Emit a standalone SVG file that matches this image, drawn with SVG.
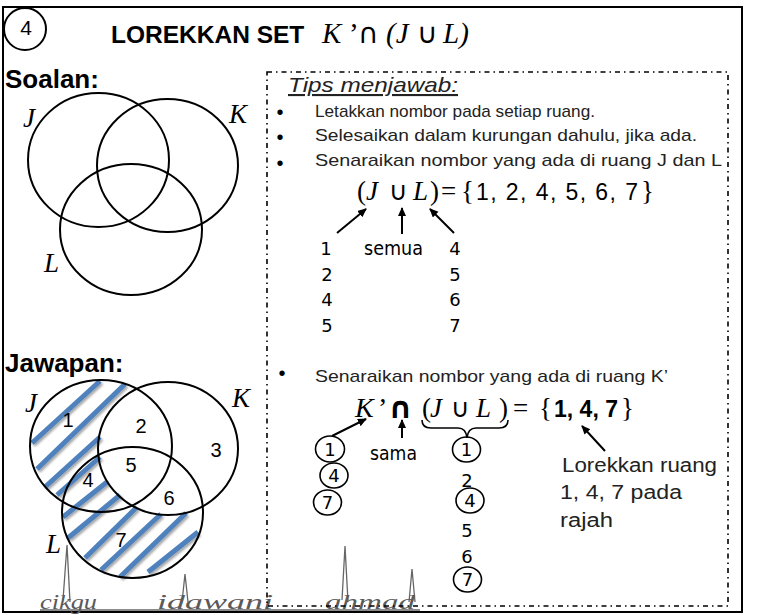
<svg xmlns="http://www.w3.org/2000/svg" width="764" height="615" viewBox="0 0 764 615">
<style>
.ring{fill:none;stroke:#000;stroke-width:2}
.it{font-family:"Liberation Serif",serif;font-style:italic;fill:#000}
.sf{font-family:"Liberation Serif",serif;fill:#000}
.sym{font-family:"DejaVu Sans",sans-serif;fill:#000}
.hw{font-family:"Liberation Sans",sans-serif;fill:#222}
.cs{font-family:"DejaVu Sans",sans-serif;fill:#000}
.bd{font-family:"Liberation Sans",sans-serif;font-weight:bold;fill:#000}
.num{font-family:"Liberation Sans",sans-serif;fill:#000}
.hatch{stroke:#4F81BD;stroke-width:5;fill:none}
.arr{stroke:#000;stroke-width:2;fill:none;marker-end:url(#ah)}
.sm{fill:none;stroke:#000;stroke-width:1.6}
.wm{font-family:"Liberation Serif",serif;font-style:italic;fill:#5a5a5a}
</style>
<defs>
<marker id="ah" markerWidth="10" markerHeight="10" refX="8" refY="4" orient="auto" markerUnits="userSpaceOnUse"><path d="M0,0 L9,4 L0,8 z" fill="#000"/></marker>
<filter id="sh" x="-20%" y="-20%" width="150%" height="150%"><feDropShadow dx="1.5" dy="2" stdDeviation="1.2" flood-color="#000" flood-opacity="0.35"/></filter>
</defs>
<rect x="3" y="7" width="739" height="605" fill="#fff" stroke="#000" stroke-width="2"/>
<g id="badge">
<ellipse cx="25" cy="29" rx="21" ry="21" class="ring" stroke-width="1.6"/>
<text x="26" y="35" class="num" font-size="21" text-anchor="middle">4</text>
</g>
<g id="title">
<text x="111" y="43" class="bd" font-size="24.5">LOREKKAN SET</text>
<text x="322" y="43" class="it" font-size="29">K</text>
<text x="349" y="43" class="sf" font-size="29">’</text>
<text x="358" y="43" class="sym" font-size="28">∩</text>
<text x="386" y="43" class="it" font-size="29">(J</text>
<text x="417" y="43" class="sym" font-size="28">∪</text>
<text x="443" y="43" class="it" font-size="29">L)</text>
</g>
<g id="soalan">
<text x="5" y="88" class="bd" font-size="26">Soalan:</text>
<ellipse cx="98.5" cy="160" rx="70.5" ry="67" class="ring"/>
<ellipse cx="167.5" cy="165.5" rx="70.5" ry="66.5" class="ring"/>
<ellipse cx="131" cy="229.5" rx="71" ry="65.5" class="ring"/>
<text x="23" y="127" class="it" font-size="27">J</text>
<text x="229" y="123" class="it" font-size="27">K</text>
<text x="44" y="272" class="it" font-size="27">L</text>
</g>
<g id="jawapan">
<text x="5" y="372" class="bd" font-size="26">Jawapan:</text>
<g filter="url(#sh)">
<line x1="32" y1="443" x2="100" y2="381" class="hatch"/>
<line x1="37" y1="469" x2="125" y2="384" class="hatch"/>
<line x1="45" y1="487" x2="100" y2="437" class="hatch"/>
<line x1="57" y1="495" x2="100" y2="457" class="hatch"/>
<line x1="63" y1="517" x2="107" y2="482" class="hatch"/>
<line x1="68" y1="538" x2="120" y2="495" class="hatch"/>
<line x1="85" y1="558" x2="137" y2="507" class="hatch"/>
<line x1="101" y1="570" x2="161" y2="514" class="hatch"/>
<line x1="120" y1="577" x2="186" y2="513" class="hatch"/>
<line x1="148" y1="572" x2="198" y2="532" class="hatch"/>
</g>
<ellipse cx="101" cy="446" rx="71" ry="66" class="ring"/>
<ellipse cx="168" cy="448.5" rx="70" ry="66.5" class="ring"/>
<ellipse cx="132.5" cy="512.5" rx="70.5" ry="65.5" class="ring"/>
<text x="25" y="412" class="it" font-size="27">J</text>
<text x="232" y="407" class="it" font-size="27">K</text>
<text x="46" y="553" class="it" font-size="27">L</text>
<g class="num" font-size="20" text-anchor="middle">
<text x="68" y="427">1</text>
<text x="141" y="433">2</text>
<text x="216" y="457">3</text>
<text x="131" y="472">5</text>
<text x="88" y="487">4</text>
<text x="169" y="505">6</text>
<text x="121" y="547">7</text>
</g>
</g>
<g id="watermark">
<path d="M40,610 H420 M63,600 L67,545 L70,602 M182,602 L185,574 L188,602 M342,600 L345,546 L348,602 M409,602 L412,569 L415,602" fill="none" stroke="#666" stroke-width="1.3"/>
<text x="40" y="609" class="wm" font-size="22" textLength="57" lengthAdjust="spacingAndGlyphs">cikgu</text>
<text x="157" y="609" class="wm" font-size="22" textLength="116" lengthAdjust="spacingAndGlyphs">idawani</text>
<text x="325" y="609" class="wm" font-size="22" textLength="90" lengthAdjust="spacingAndGlyphs">ahmad</text>
</g>
<g id="tips">
<rect x="267" y="72" width="461" height="534" fill="none" stroke="#000" stroke-width="1.6" stroke-dasharray="5 4 1.5 4"/>
<text x="288" y="92" class="hw" font-size="21" font-style="italic" text-decoration="underline" textLength="170" lengthAdjust="spacingAndGlyphs">Tips menjawab:</text>
<g class="num" font-size="20" text-anchor="middle">
<text x="280" y="119">•</text>
<text x="280" y="144">•</text>
<text x="280" y="170">•</text>
<text x="282" y="380">•</text>
</g>
<text x="315" y="117" class="hw" font-size="17" textLength="280" lengthAdjust="spacingAndGlyphs">Letakkan nombor pada setiap ruang.</text>
<text x="315" y="141" class="hw" font-size="17" textLength="382" lengthAdjust="spacingAndGlyphs">Selesaikan dalam kurungan dahulu, jika ada.</text>
<text x="315" y="166" class="hw" font-size="17" textLength="407" lengthAdjust="spacingAndGlyphs">Senaraikan nombor yang ada di ruang J dan L</text>
</g>
<g id="formula1">
<text x="357" y="200" class="sf" font-size="27">(</text>
<text x="366" y="200" class="it" font-size="27">J</text>
<text x="389" y="200" class="sym" font-size="26">∪</text>
<text x="413" y="200" class="it" font-size="27">L</text>
<text x="430" y="200" class="sf" font-size="27">)</text>
<text x="441" y="200" class="sf" font-size="27">=</text>
<text x="461" y="200" class="sf" font-size="27">{</text>
<text x="476" y="200" class="num" font-size="23" textLength="162" lengthAdjust="spacing">1, 2, 4, 5, 6, 7</text>
<text x="641" y="200" class="sf" font-size="27">}</text>
</g>
<g id="connectors">
<line x1="337" y1="233" x2="366" y2="209" class="arr"/>
<line x1="402" y1="234" x2="402" y2="208" class="arr"/>
<line x1="454" y1="233" x2="430" y2="209" class="arr"/>
<line x1="332" y1="436" x2="366" y2="419" class="arr"/>
<line x1="402" y1="438" x2="402" y2="420" class="arr"/>
<line x1="605" y1="451" x2="582" y2="426" class="arr"/>
<path d="M422,420 Q422,428 431,428 L458,428 Q466,428 467,438 Q468,428 476,428 L499,428 Q508,428 508,420" class="sm"/>
</g>
<g id="columns1" class="cs" font-size="18" text-anchor="middle">
<text x="326" y="255">1</text>
<text x="327" y="280.5">2</text>
<text x="327" y="306">4</text>
<text x="327" y="331.5">5</text>
<text x="455" y="255">4</text>
<text x="455" y="280.5">5</text>
<text x="455" y="306">6</text>
<text x="455" y="331.5">7</text>
</g>
<text x="364" y="255" class="cs" font-size="20" textLength="59" lengthAdjust="spacingAndGlyphs">semua</text>
<g id="step2">
<text x="315" y="382" class="hw" font-size="17" textLength="353" lengthAdjust="spacingAndGlyphs">Senaraikan nombor yang ada di ruang K’</text>
</g>
<g id="formula2">
<text x="355" y="417" class="it" font-size="28">K</text>
<text x="378" y="417" class="sf" font-size="28">’</text>
<text x="388" y="418" class="sym" font-size="30" font-weight="bold">∩</text>
<text x="422" y="417" class="sf" font-size="27">(</text>
<text x="430" y="417" class="it" font-size="27">J</text>
<text x="451" y="417" class="sym" font-size="26">∪</text>
<text x="476" y="417" class="it" font-size="27">L</text>
<text x="499" y="417" class="sf" font-size="27">)</text>
<text x="513" y="417" class="sf" font-size="27">=</text>
<text x="539" y="417" class="sf" font-size="27">{</text>
<text x="554" y="417" class="bd" font-size="23" textLength="64" lengthAdjust="spacing">1, 4, 7</text>
<text x="621" y="417" class="sf" font-size="27">}</text>
</g>
<text x="370" y="460" class="cs" font-size="20" textLength="47" lengthAdjust="spacingAndGlyphs">sama</text>
<g id="circled" class="cs" font-size="18" text-anchor="middle">
<ellipse cx="330" cy="449" rx="14.5" ry="13" class="sm"/>
<text x="330" y="455.5">1</text>
<ellipse cx="334" cy="475.5" rx="14" ry="12.5" class="sm"/>
<text x="334" y="482">4</text>
<ellipse cx="327.5" cy="502.5" rx="14" ry="12.5" class="sm"/>
<text x="327.5" y="509">7</text>
<ellipse cx="466.5" cy="449.5" rx="14" ry="12.5" class="sm"/>
<text x="466.5" y="456">1</text>
<text x="467" y="487">2</text>
<ellipse cx="470" cy="500.5" rx="14" ry="12.5" class="sm"/>
<text x="470" y="507">4</text>
<text x="467" y="537">5</text>
<text x="467" y="563">6</text>
<ellipse cx="467.5" cy="579.5" rx="14" ry="12.5" class="sm"/>
<text x="467.5" y="586">7</text>
</g>
<g id="note" class="hw" font-size="20">
<text x="562" y="472" textLength="155" lengthAdjust="spacingAndGlyphs">Lorekkan ruang</text>
<text x="560" y="499" textLength="122" lengthAdjust="spacingAndGlyphs">1, 4, 7 pada</text>
<text x="560" y="527" textLength="53" lengthAdjust="spacingAndGlyphs">rajah</text>
</g>
</svg>
